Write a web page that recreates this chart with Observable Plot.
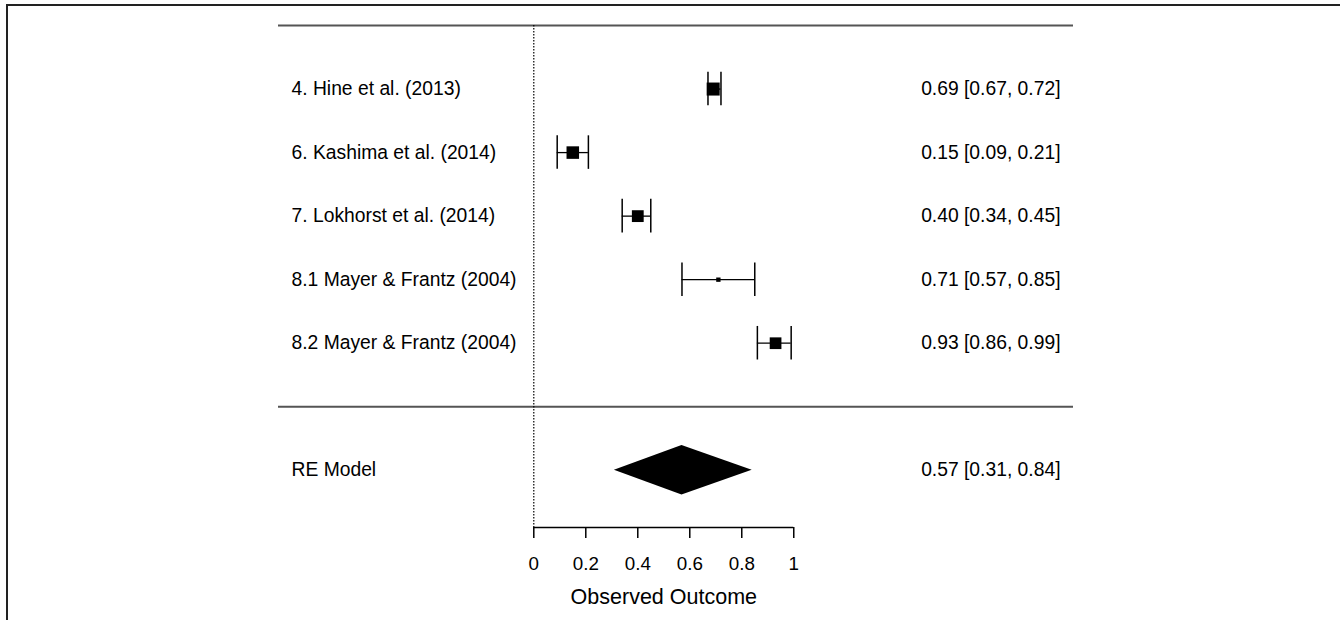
<!DOCTYPE html>
<html>
<head>
<meta charset="utf-8">
<script src="https://cdn.jsdelivr.net/npm/d3@7"></script>
<script src="https://cdn.jsdelivr.net/npm/@observablehq/plot@0.6"></script>
<style>
  body { margin: 0; background: #fff; }
  #wrap { position: relative; width: 1340px; height: 620px; overflow: hidden; }
  #frame { position: absolute; left: 6px; top: 4px; right: -10px; bottom: -10px;
           border-top: 2px solid #222; border-left: 2px solid #222; pointer-events: none; }
</style>
</head>
<body>
<div id="wrap"><div id="frame"></div></div>
<script>
// ---- data ----
const studies = [
  "4. Hine et al. (2013)",
  "6. Kashima et al. (2014)",
  "7. Lokhorst et al. (2014)",
  "8.1 Mayer & Frantz (2004)",
  "8.2 Mayer & Frantz (2004)"
];
const estimates = [0.69, 0.15, 0.40, 0.71, 0.93];
const ciLower   = [0.67, 0.09, 0.34, 0.57, 0.86];
const ciUpper   = [0.72, 0.21, 0.45, 0.85, 0.99];
const weights   = [20.48, 20.38, 20.23, 18.70, 20.21];
const rows      = [5, 4, 3, 2, 1];

const modelLabel = "RE Model";
const modelEstimate = 0.57;
const modelLower = 0.31;
const modelUpper = 0.84;
const modelRow = -1;

const xTicks = [0, 0.2, 0.4, 0.6, 0.8, 1];
const xLabel = "Observed Outcome";
const xlim = [-0.982, 2.076];
const ylim = [-1.9, 6];

// ---- derived tables ----
const fmt = d3.format(".2f");
const table = studies.map((s, i) => ({
  study: s, est: estimates[i], lo: ciLower[i], hi: ciUpper[i], w: weights[i], row: rows[i],
  annot: `${fmt(estimates[i])} [${fmt(ciLower[i])}, ${fmt(ciUpper[i])}]`
}));
const model = [{
  study: modelLabel, row: modelRow,
  annot: `${fmt(modelEstimate)} [${fmt(modelLower)}, ${fmt(modelUpper)}]`
}];
const topLine = d3.max(rows) + 1;
const sepLine = d3.min(rows) - 1;
const diamondHalf = 0.39; // style: half-height of the summary diamond, in rows
const diamond = [
  {y: modelRow - diamondHalf, x1: modelEstimate, x2: modelEstimate},
  {y: modelRow, x1: modelLower, x2: modelUpper},
  {y: modelRow + diamondHalf, x1: modelEstimate, x2: modelEstimate}
];

const font = "'Liberation Sans', Arial, Helvetica, sans-serif";

const chart = Plot.plot({
  width: 1340,
  height: 620,
  marginLeft: 278,
  marginRight: 267,
  marginTop: 25,
  marginBottom: 93,
  style: {fontFamily: font, background: "transparent", color: "#000", overflow: "visible"},
  x: {domain: xlim},
  y: {domain: ylim, axis: null},
  r: {type: "linear", domain: [d3.min(weights), d3.max(weights)], range: [2.45, 7.35]},
  marks: [
    // top and separator lines
    Plot.ruleY([topLine, sepLine], {stroke: "#555", strokeWidth: 2}),
    // dotted reference line at 0
    Plot.ruleX([0], {y1: topLine, y2: ylim[0], stroke: "#000", strokeWidth: 1.2, strokeDasharray: "1.5,1.5"}),
    // CI lines
    Plot.ruleY(table, {y: "row", x1: "lo", x2: "hi", stroke: "#000", strokeWidth: 1.3}),
    // CI caps
    Plot.ruleX(table, {x: "lo", y1: d => d.row + 0.5, y2: d => d.row - 0.5, insetTop: 15, insetBottom: 15, stroke: "#000", strokeWidth: 1.5}),
    Plot.ruleX(table, {x: "hi", y1: d => d.row + 0.5, y2: d => d.row - 0.5, insetTop: 15, insetBottom: 15, stroke: "#000", strokeWidth: 1.5}),
    // point estimates
    Plot.dot(table, {x: "est", y: "row", r: "w", symbol: "square", fill: "#000", stroke: "none"}),
    // summary diamond
    Plot.areaX(diamond, {y: "y", x1: "x1", x2: "x2", fill: "#000", curve: "linear"}),
    // left labels
    Plot.text(table.concat(model), {y: "row", text: "study", frameAnchor: "left", textAnchor: "start", dx: 13, fontSize: 19.3}),
    // right annotations
    Plot.text(table.concat(model), {y: "row", text: "annot", frameAnchor: "right", textAnchor: "end", dx: -13, fontSize: 19.3}),
    // x axis
    Plot.ruleY([ylim[0]], {x1: xTicks[0], x2: xTicks[xTicks.length - 1], stroke: "#000", strokeWidth: 1.5}),
    Plot.axisX({ticks: xTicks, tickFormat: d3.format("~g"), tickSize: 11, tickPadding: 18, fontSize: 18.8, label: null, stroke: "#000", strokeWidth: 1.5}),
    Plot.text([xLabel], {x: d3.mean([xTicks[0], xTicks[xTicks.length - 1]]), text: d => d, frameAnchor: "bottom", dy: 76, fontSize: 21.5})
  ]
});
document.getElementById("wrap").prepend(chart);
</script>
</body>
</html>
